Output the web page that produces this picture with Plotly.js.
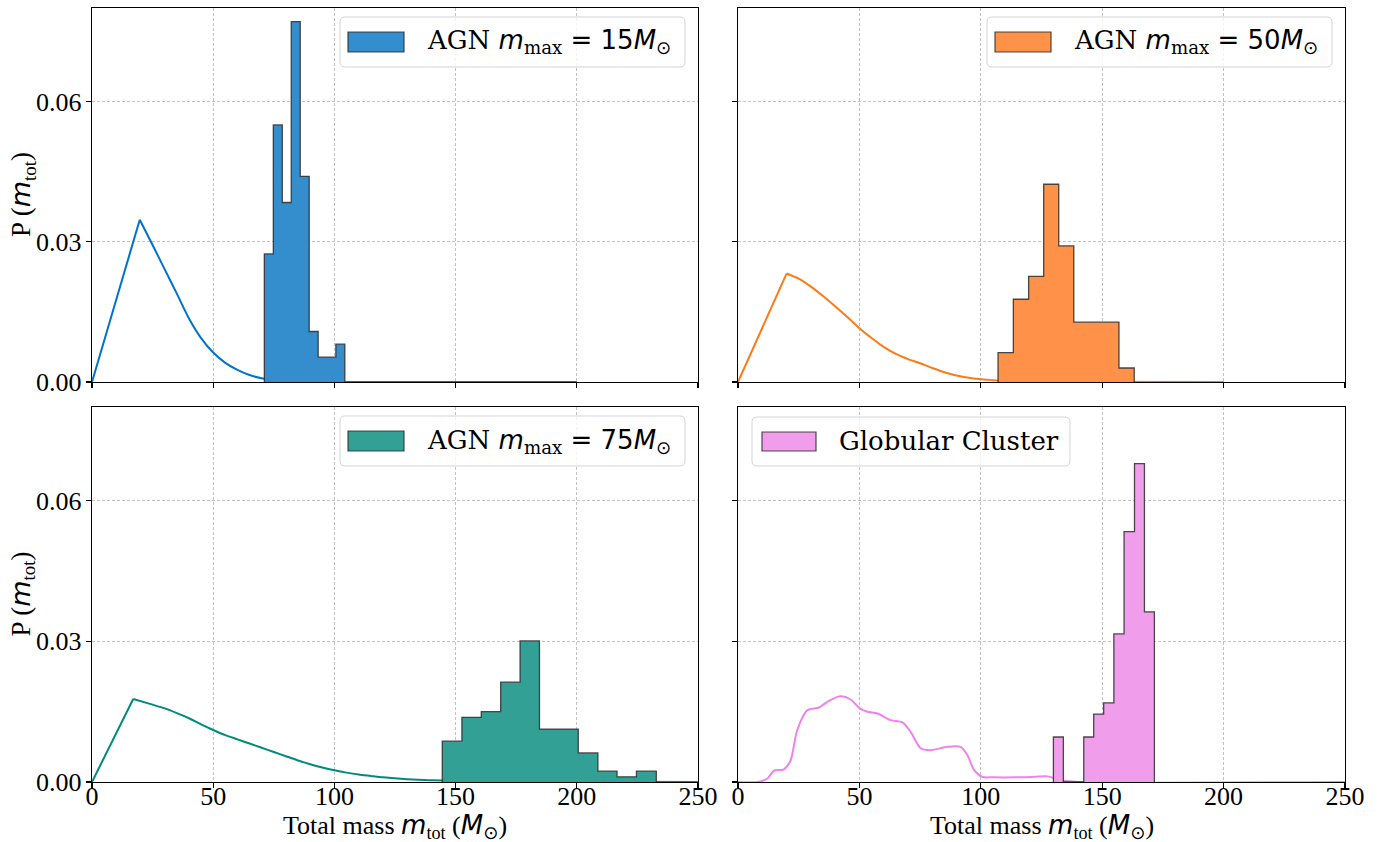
<!DOCTYPE html>
<html>
<head>
<meta charset="utf-8">
<script src="https://cdn.plot.ly/plotly-3.0.1.min.js"></script>
<style>
  html, body { margin: 0; padding: 0; background: #fff; }
  #chart { width: 1384px; height: 842px; }
</style>
</head>
<body>
<div id="chart"></div>
<script>
// ---------------- data ----------------
const agn15Edges   = [71.1, 74.8, 78.5, 82.2, 85.9, 89.6, 93.3, 97.0, 100.6, 104.3];
const agn15Heights = [0.0274, 0.0550, 0.0384, 0.0771, 0.0440, 0.0108, 0.0053, 0.0053, 0.0081];
const agn15CurveX  = [0, 19.7, 25, 30, 35, 40, 45, 50, 55, 60, 65, 70, 75, 80, 90, 100, 200];
const agn15CurveY  = [0, 0.0347, 0.0293, 0.0241, 0.0189, 0.0136, 0.0094, 0.0063, 0.0041, 0.0026, 0.0015, 0.0008, 0.0004, 0.0002, 0.00005, 0, 0];

const agn50Edges   = [107.1, 113.4, 119.7, 125.9, 132.1, 138.3, 144.5, 150.7, 156.9, 163.2];
const agn50Heights = [0.0063, 0.0177, 0.0226, 0.0423, 0.0291, 0.0128, 0.0128, 0.0128, 0.0030];
const agn50CurveX  = [0, 20, 25, 30, 35, 40, 45, 50, 55, 60, 65, 70, 75, 80, 85, 90, 95, 100, 105, 110, 120, 130, 200];
const agn50CurveY  = [0, 0.0232, 0.0221, 0.0204, 0.0184, 0.0162, 0.0139, 0.0115, 0.0094, 0.0075, 0.0060, 0.0049, 0.0040, 0.0030, 0.0021, 0.0014, 0.0009, 0.0006, 0.0004, 0.0002, 0.0001, 0.00005, 0];

const agn75Edges   = [144.5, 152.6, 160.6, 168.6, 176.6, 184.6, 192.6, 200.6, 208.7, 216.6, 224.6, 232.8];
const agn75Heights = [0.0087, 0.0138, 0.0150, 0.0213, 0.0301, 0.0113, 0.0113, 0.0062, 0.0023, 0.0011, 0.0023];
const agn75CurveX  = [0, 17, 25, 30, 35, 40, 45, 50, 55, 60, 65, 70, 75, 80, 85, 90, 95, 100, 105, 110, 115, 120, 125, 130, 140, 150, 160, 250];
const agn75CurveY  = [0, 0.0177, 0.0165, 0.0157, 0.0147, 0.0136, 0.0123, 0.0111, 0.0100, 0.0091, 0.0082, 0.0073, 0.0064, 0.0055, 0.0046, 0.0038, 0.0031, 0.0025, 0.0020, 0.0016, 0.0013, 0.0010, 0.0008, 0.0006, 0.0004, 0.0002, 0.0001, 0];

const gcEdges   = [129.9, 134.0, 138.2, 142.4, 146.5, 150.6, 154.8, 159.0, 163.3, 167.4, 171.5];
const gcHeights = [0.0096, 0, 0, 0.0096, 0.0145, 0.0169, 0.0316, 0.0534, 0.0679, 0.0363];
const gcCurveX  = [0, 8, 12, 14.8, 18.9, 21.7, 24.4, 28.5, 33.4, 36.8, 42.0, 46.4, 50.2, 53.3, 57.4, 62.9, 67.7, 71.1, 75.2, 79.4, 86.2, 91.7, 94.5, 97.2, 100.6, 105, 115, 121.9, 127.4, 130.5, 133.6, 140, 250];
const gcCurveY  = [0, 0, 0.0007, 0.0024, 0.0027, 0.0047, 0.0111, 0.0153, 0.0159, 0.0171, 0.0183, 0.0176, 0.0157, 0.0150, 0.0146, 0.0132, 0.0127, 0.0107, 0.0072, 0.0068, 0.0075, 0.0075, 0.0057, 0.0026, 0.0011, 0.0010, 0.0010, 0.0011, 0.0012, 0.0008, 0.0003, 0, 0];

const xTicks = [0, 50, 100, 150, 200, 250];
const yTicks = [0, 0.03, 0.06];

const DJS = 'font-family:\'DejaVu Sans\'';
const legendLabels = [
  `AGN <span style="${DJS}"><i>m</i></span><sub>max</sub><span style="${DJS}"> = 15<i>M</i><sub>⊙</sub></span>`,
  `AGN <span style="${DJS}"><i>m</i></span><sub>max</sub><span style="${DJS}"> = 50<i>M</i><sub>⊙</sub></span>`,
  `AGN <span style="${DJS}"><i>m</i></span><sub>max</sub><span style="${DJS}"> = 75<i>M</i><sub>⊙</sub></span>`,
  'Globular Cluster'
];
const xTitle = `Total mass <span style="${DJS}"><i>m</i></span><sub>tot</sub> (<span style="${DJS}"><i>M</i><sub>⊙</sub></span>)`;
const yTitle = `P (<span style="${DJS}"><i>m</i></span><sub>tot</sub>)`;

// ---------------- styling ----------------
const lineColors = ['rgb(0,114,206)', 'rgb(255,122,20)', 'rgb(0,138,124)', 'rgb(238,130,238)'];
const fillColors = ['rgb(52,141,205)', 'rgb(255,146,72)', 'rgb(51,160,150)', 'rgb(240,158,236)'];
const edgeColor = 'rgba(45,45,45,0.85)';
const serif = 'Liberation Serif, Times New Roman, serif';

function stepXY(edges, heights) {
  const x = [edges[0]], y = [0];
  for (let i = 0; i < heights.length; i++) { x.push(edges[i]); y.push(heights[i]); }
  x.push(edges[edges.length - 1]); y.push(0);
  return {x, y};
}

const panels = [
  {edges: agn15Edges, heights: agn15Heights, cx: agn15CurveX, cy: agn15CurveY, xa: 'x',  ya: 'y',  kde: false},
  {edges: agn50Edges, heights: agn50Heights, cx: agn50CurveX, cy: agn50CurveY, xa: 'x2', ya: 'y2', kde: false},
  {edges: agn75Edges, heights: agn75Heights, cx: agn75CurveX, cy: agn75CurveY, xa: 'x3', ya: 'y3', kde: false},
  {edges: gcEdges,    heights: gcHeights,    cx: gcCurveX,    cy: gcCurveY,    xa: 'x4', ya: 'y4', kde: true}
];

const traces = [];
panels.forEach((p, i) => {
  const lineStyle = {color: lineColors[i], width: 2};
  if (p.kde) {
    traces.push({type: 'scatter', mode: 'lines', x: p.cx, y: p.cy, xaxis: p.xa, yaxis: p.ya,
      line: Object.assign({shape: 'spline', smoothing: 0.8}, lineStyle), showlegend: false, hoverinfo: 'skip'});
  } else {
    // linear rise up to the peak, smooth decay after it
    const k = p.cy.indexOf(Math.max(...p.cy));
    traces.push({type: 'scatter', mode: 'lines', x: p.cx.slice(0, k + 1), y: p.cy.slice(0, k + 1),
      xaxis: p.xa, yaxis: p.ya, line: Object.assign({shape: 'linear'}, lineStyle), showlegend: false, hoverinfo: 'skip'});
    traces.push({type: 'scatter', mode: 'lines', x: p.cx.slice(k), y: p.cy.slice(k),
      xaxis: p.xa, yaxis: p.ya, line: Object.assign({shape: 'spline', smoothing: 0.7}, lineStyle), showlegend: false, hoverinfo: 'skip'});
  }
  const s = stepXY(p.edges, p.heights);
  traces.push({
    type: 'scatter', mode: 'lines', x: s.x, y: s.y, xaxis: p.xa, yaxis: p.ya,
    fill: 'toself', fillcolor: fillColors[i],
    line: {color: edgeColor, width: 1.3, shape: 'hv'},
    showlegend: false, hoverinfo: 'skip'
  });
});

// ---------------- layout ----------------
const W = 1384, H = 842;
const px = v => v / W;
const py = v => 1 - v / H;

const colX = [[92, 698], [738, 1345]];
const rowY = [[8, 382], [407, 782]];

function axisBase() {
  return {
    showline: true, mirror: true, linecolor: '#000', linewidth: 1.2,
    ticks: 'outside', ticklen: 5, tickwidth: 1.2, tickcolor: '#000',
    showgrid: true, gridcolor: '#b3b3b3', griddash: '3px,2px', gridwidth: 0.8,
    zeroline: false, fixedrange: true,
    tickfont: {family: serif, size: 26, color: '#000'}
  };
}

const layout = {
  width: W, height: H,
  margin: {l: 0, r: 0, t: 0, b: 0},
  paper_bgcolor: '#fff', plot_bgcolor: '#fff',
  showlegend: false,
  font: {family: serif, color: '#000'},
  shapes: [], annotations: []
};

const axisNames = [['xaxis', 'yaxis'], ['xaxis2', 'yaxis2'], ['xaxis3', 'yaxis3'], ['xaxis4', 'yaxis4']];
const anchors = [['y', 'x'], ['y2', 'x2'], ['y3', 'x3'], ['y4', 'x4']];
for (let i = 0; i < 4; i++) {
  const r = Math.floor(i / 2), c = i % 2;
  layout[axisNames[i][0]] = Object.assign(axisBase(), {
    domain: [px(colX[c][0]), px(colX[c][1])], anchor: anchors[i][0],
    range: [0, 250], tickvals: xTicks, ticktext: xTicks.map(String),
    showticklabels: r === 1, ticklabelstandoff: -14
  });
  layout[axisNames[i][1]] = Object.assign(axisBase(), {
    domain: [py(rowY[r][1]), py(rowY[r][0])], anchor: anchors[i][1],
    range: [0, 0.08], tickvals: yTicks, tickformat: '.2f',
    showticklabels: c === 0, ticklabelstandoff: -1
  });
}

// axis titles
[0, 1].forEach(c => {
  layout.annotations.push({
    xref: 'paper', yref: 'paper', x: px((colX[c][0] + colX[c][1]) / 2), y: py(826),
    xanchor: 'center', yanchor: 'middle', showarrow: false, text: xTitle, borderpad: 0,
    font: {family: serif, size: 26, color: '#000'}
  });
});
[0, 1].forEach(r => {
  layout.annotations.push({
    xref: 'paper', yref: 'paper', x: px(22), y: py((rowY[r][0] + rowY[r][1]) / 2),
    xanchor: 'center', yanchor: 'middle', showarrow: false, textangle: -90, text: yTitle,
    font: {family: serif, size: 27, color: '#000'}
  });
});

// legend boxes (drawn as shapes + annotations), positions in pixels
const legendBoxes = [
  {box: [340, 17, 685, 67],  patch: [348, 32, 404, 52],  textX: 425, textY: 42},
  {box: [987, 17, 1332, 67], patch: [995, 32, 1051, 52], textX: 1072, textY: 42},
  {box: [340, 416, 685, 466], patch: [348, 431, 404, 451], textX: 425, textY: 441},
  {box: [752, 417, 1070, 466], patch: [762, 432, 816, 451], textX: 837, textY: 441}
];

function roundRect(x0, y0, x1, y1, r) {
  const X = v => px(v).toFixed(5), Y = v => py(v).toFixed(5);
  return `M${X(x0 + r)},${Y(y0)} L${X(x1 - r)},${Y(y0)} Q${X(x1)},${Y(y0)} ${X(x1)},${Y(y0 + r)} ` +
         `L${X(x1)},${Y(y1 - r)} Q${X(x1)},${Y(y1)} ${X(x1 - r)},${Y(y1)} ` +
         `L${X(x0 + r)},${Y(y1)} Q${X(x0)},${Y(y1)} ${X(x0)},${Y(y1 - r)} ` +
         `L${X(x0)},${Y(y0 + r)} Q${X(x0)},${Y(y0)} ${X(x0 + r)},${Y(y0)} Z`;
}

legendBoxes.forEach((lb, i) => {
  layout.shapes.push({
    type: 'path', xref: 'paper', yref: 'paper', layer: 'above',
    path: roundRect(lb.box[0], lb.box[1], lb.box[2], lb.box[3], 5),
    fillcolor: 'rgba(255,255,255,0.8)', line: {color: '#d4d4d4', width: 1}
  });
  layout.shapes.push({
    type: 'rect', xref: 'paper', yref: 'paper', layer: 'above',
    x0: px(lb.patch[0]), x1: px(lb.patch[2]), y0: py(lb.patch[3]), y1: py(lb.patch[1]),
    fillcolor: fillColors[i], line: {color: edgeColor, width: 1.2}
  });
  layout.annotations.push({
    xref: 'paper', yref: 'paper', x: px(lb.textX), y: py(lb.textY),
    xanchor: 'left', yanchor: 'middle', showarrow: false,
    text: legendLabels[i],
    font: {family: 'DejaVu Serif, serif', size: 26, color: '#000'}
  });
});

Plotly.newPlot('chart', traces, layout, {staticPlot: true, displayModeBar: false});
</script>
</body>
</html>
